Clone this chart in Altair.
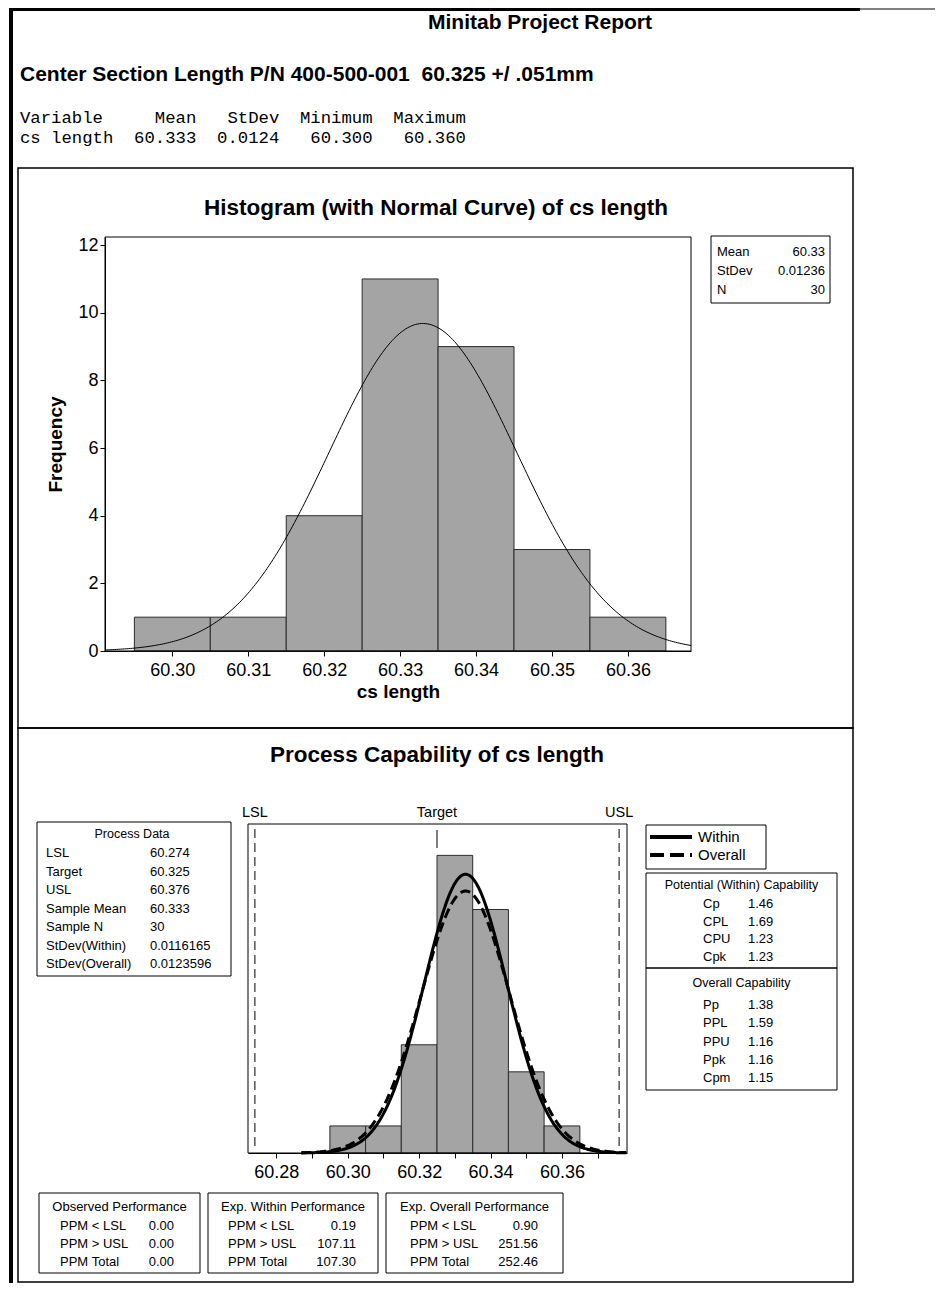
import altair as alt
import pandas as pd

# ---------------- data ----------------
BIN_CENTERS = [60.30, 60.31, 60.32, 60.33, 60.34, 60.35, 60.36]
COUNTS = [1, 1, 4, 11, 9, 3, 1]
BIN_WIDTH = 0.01
N_OBS = 30
MEAN = 60.333
SD_HIST = 0.01236
SD_WITHIN = 0.0116165
SD_OVERALL = 0.0123596
LSL, TARGET, USL = 60.274, 60.325, 60.376
SPEC_LABELS = ["LSL", "Target", "USL"]

HIST_X_TICKS = [60.30, 60.31, 60.32, 60.33, 60.34, 60.35, 60.36]
HIST_Y_TICKS = [0, 2, 4, 6, 8, 10, 12]
CAP_X_TICKS = [60.28, 60.29, 60.30, 60.31, 60.32, 60.33, 60.34, 60.35, 60.36, 60.37]

REPORT_TITLE = "Minitab Project Report"
SUBTITLE = "Center Section Length P/N 400-500-001  60.325 +/ .051mm"
SUMMARY_HEADER = "Variable     Mean   StDev  Minimum  Maximum"
SUMMARY_ROW = "cs length  60.333  0.0124   60.300   60.360"
HIST_TITLE = "Histogram (with Normal Curve) of cs length"
CAP_TITLE = "Process Capability of cs length"
HIST_STAT_LABELS = ["Mean", "StDev", "N"]
HIST_STAT_VALUES = ["60.33", "0.01236", "30"]
PROCESS_TITLE = "Process Data"
PROCESS_LABELS = ["LSL", "Target", "USL", "Sample Mean", "Sample N", "StDev(Within)", "StDev(Overall)"]
PROCESS_VALUES = ["60.274", "60.325", "60.376", "60.333", "30", "0.0116165", "0.0123596"]
LEGEND_LABELS = ["Within", "Overall"]
POTENTIAL_TITLE = "Potential (Within) Capability"
POTENTIAL_LABELS = ["Cp", "CPL", "CPU", "Cpk"]
POTENTIAL_VALUES = ["1.46", "1.69", "1.23", "1.23"]
OVERALL_TITLE = "Overall Capability"
OVERALL_LABELS = ["Pp", "PPL", "PPU", "Ppk", "Cpm"]
OVERALL_VALUES = ["1.38", "1.59", "1.16", "1.16", "1.15"]
PERF_LABELS = ["PPM < LSL", "PPM > USL", "PPM Total"]
OBSERVED_TITLE = "Observed Performance"
OBSERVED_VALUES = ["0.00", "0.00", "0.00"]
EXPW_TITLE = "Exp. Within Performance"
EXPW_VALUES = ["0.19", "107.11", "107.30"]
EXPO_TITLE = "Exp. Overall Performance"
EXPO_VALUES = ["0.90", "251.56", "252.46"]

# ---------------- layout helpers ----------------
SANS = "Liberation Sans"
MONO = "Liberation Mono"
W, H = 927, 1275
ONE = pd.DataFrame({"k": [0]})


def P(v):
    return v - 8


def keep(s):
    return s.replace(" ", "\u00a0")


def rows(y0, n, dy):
    return [y0 + i * dy for i in range(n)]


def box(x0, y0, x1, y1, sw=1.0):
    return alt.Chart(ONE).mark_rect(fill="white", fillOpacity=0, stroke="black", strokeWidth=sw).encode(
        x=alt.value(P(x0)), x2=alt.value(P(x1)), y=alt.value(P(y0)), y2=alt.value(P(y1)))


def solid(x0, y0, x1, y1):
    return alt.Chart(ONE).mark_rect(fill="black").encode(
        x=alt.value(P(x0)), x2=alt.value(P(x1)), y=alt.value(P(y0)), y2=alt.value(P(y1)))


def seg(x0, y0, x1, y1, sw=1.0, dash=None):
    kw = dict(color="black", strokeWidth=sw)
    if dash:
        kw["strokeDash"] = dash
    return alt.Chart(ONE).mark_rule(**kw).encode(
        x=alt.value(P(x0)), x2=alt.value(P(x1)), y=alt.value(P(y0)), y2=alt.value(P(y1)))


def txt(xs, ys, texts, size, weight="normal", align="left", font=SANS, angle=0):
    df = pd.DataFrame({"x": [P(v) for v in xs], "y": [P(v) for v in ys], "t": [keep(t) for t in texts]})
    return alt.Chart(df).mark_text(align=align, baseline="middle", font=font, fontSize=size,
                                   fontWeight=weight, color="black", angle=angle).encode(
        x=alt.X("x:Q", scale=None, axis=None),
        y=alt.Y("y:Q", scale=None, axis=None),
        text="t:N")


def axis_common(**kw):
    base = dict(grid=False, labelFont=SANS, labelFontSize=18, labelColor="black", tickColor="black",
                domainColor="black", tickSize=5, labelFlush=False, labelOverlap=False,
                titleFont=SANS, titleFontSize=19, titleFontWeight="bold", titleColor="black")
    base.update(kw)
    return alt.Axis(**base)


bins_df = pd.DataFrame({"c": BIN_CENTERS, "n": COUNTS})
half = BIN_WIDTH / 2

# ---------------- histogram ----------------
hx0, hx1 = 60.29113, 60.36831
hx = alt.Scale(domain=[hx0, hx1], range=[P(105), P(691)], nice=False, zero=False)
hy = alt.Scale(domain=[0, 12.24], range=[P(651), P(237)], nice=False, zero=True)
hxa = axis_common(orient="bottom", offset=P(651) - H, values=HIST_X_TICKS, format=".2f",
                  labelPadding=5, title="cs length", titlePadding=3)
hya = axis_common(orient="left", offset=-P(105), values=HIST_Y_TICKS, format="d",
                  labelPadding=2, title="Frequency", titlePadding=12)

h_bars = alt.Chart(bins_df).transform_calculate(
    lo=f"datum.c - {half}", hi=f"datum.c + {half}"
).mark_rect(fill="#a4a4a4", stroke="#2b2b2b", strokeWidth=1).encode(
    x=alt.X("lo:Q", scale=hx, axis=hxa), x2="hi:Q",
    y=alt.Y("n:Q", scale=hy, axis=hya), y2=alt.datum(0))

NPTS = 300
h_curve = alt.Chart(alt.sequence(0, NPTS + 1, as_="i")).transform_calculate(
    x=f"{hx0} + datum.i * {(hx1 - hx0) / NPTS}"
).transform_calculate(
    y=f"{N_OBS * BIN_WIDTH} * densityNormal(datum.x, {MEAN}, {SD_HIST})"
).mark_line(color="black", strokeWidth=1, clip=True).encode(
    x=alt.X("x:Q", scale=hx, axis=hxa), y=alt.Y("y:Q", scale=hy, axis=hya), order="i:Q")

hist = alt.layer(h_bars, h_curve)

# ---------------- capability ----------------
cx = alt.Scale(domain=[60.27207, 60.37821], range=[P(248), P(627)], nice=False, zero=False)
cy = alt.Scale(domain=[0, 12.16], range=[P(1153), P(824)], nice=False, zero=True)
cxa = axis_common(orient="bottom", offset=P(1153) - H, values=CAP_X_TICKS,
                  labelExpr="round(datum.value * 100) % 2 == 0 ? format(datum.value, '.2f') : ''",
                  labelPadding=5, title=None)

c_bars = alt.Chart(bins_df).transform_calculate(
    lo=f"datum.c - {half}", hi=f"datum.c + {half}"
).mark_rect(fill="#a4a4a4", stroke="#2b2b2b", strokeWidth=1).encode(
    x=alt.X("lo:Q", scale=cx, axis=cxa), x2="hi:Q",
    y=alt.Y("n:Q", scale=cy, axis=None), y2=alt.datum(0))

cx0, cx1 = 60.2870, 60.3780


def cap_curve(sd, dash=None):
    kw = dict(color="black", strokeWidth=3, clip=True)
    if dash:
        kw["strokeDash"] = dash
    return alt.Chart(alt.sequence(0, NPTS + 1, as_="i")).transform_calculate(
        x=f"{cx0} + datum.i * {(cx1 - cx0) / NPTS}"
    ).transform_calculate(
        y=f"{N_OBS * BIN_WIDTH} * densityNormal(datum.x, {MEAN}, {sd})"
    ).mark_line(**kw).encode(
        x=alt.X("x:Q", scale=cx, axis=cxa), y=alt.Y("y:Q", scale=cy, axis=None), order="i:Q")


spec_df = pd.DataFrame({"v": [LSL, TARGET, USL], "lab": SPEC_LABELS})
limits_df = pd.DataFrame({"v": [LSL, USL]})
c_limits = alt.Chart(limits_df).mark_rule(color="black", strokeWidth=1, strokeDash=[9, 5]).encode(
    x=alt.X("v:Q", scale=cx, axis=cxa), y=alt.value(P(829)), y2=alt.value(P(1151)))
c_target = alt.Chart(pd.DataFrame({"v": [TARGET]})).mark_rule(color="black", strokeWidth=1).encode(
    x=alt.X("v:Q", scale=cx, axis=cxa), y=alt.value(P(830)), y2=alt.value(P(848)))
c_labels = alt.Chart(spec_df).mark_text(font=SANS, fontSize=14.5, color="black", baseline="middle").encode(
    x=alt.X("v:Q", scale=cx, axis=cxa), y=alt.value(P(813)), text="lab:N")

cap = alt.layer(c_bars, cap_curve(SD_OVERALL, [10, 5]), cap_curve(SD_WITHIN), c_limits, c_target, c_labels)

# ---------------- decorations & text ----------------
layers = [
    solid(9, 8, 13, 1283),
    solid(9, 8, 860, 11),
    seg(860, 9, 935, 9, 1),
    box(18, 168, 853, 728, 1.5),
    box(18, 728, 853, 1282, 1.5),
    hist,
    box(105, 237, 691, 651),
    cap,
    box(248, 824, 627, 1153),
    txt([540], [23], [REPORT_TITLE], 21, "bold", "center"),
    txt([20], [75], [SUBTITLE], 21, "bold"),
    txt([20, 20], [118, 138], [SUMMARY_HEADER, SUMMARY_ROW], 17.3, font=MONO),
    txt([436], [208], [HIST_TITLE], 22.5, "bold", "center"),
    txt([437], [755], [CAP_TITLE], 22.5, "bold", "center"),
    # histogram stats box
    box(711, 236, 830, 303),
    txt([717] * 3, rows(252, 3, 19), HIST_STAT_LABELS, 13),
    txt([825] * 3, rows(252, 3, 19), HIST_STAT_VALUES, 13, align="right"),
    # process data
    box(37, 822, 231, 976),
    txt([132], [834], [PROCESS_TITLE], 12.5, align="center"),
    txt([46] * 7, rows(853, 7, 18.5), PROCESS_LABELS, 13),
    txt([150] * 7, rows(853, 7, 18.5), PROCESS_VALUES, 13),
    # legend
    box(646, 825, 766, 869),
    seg(650, 837, 692, 837, 4),
    seg(650, 855, 692, 855, 4, [14, 6]),
    txt([698, 698], [837, 855], LEGEND_LABELS, 15),
    # potential capability
    box(646, 873, 837, 968),
    txt([741.5], [885], [POTENTIAL_TITLE], 12.5, align="center"),
    txt([703] * 4, rows(904, 4, 17.5), POTENTIAL_LABELS, 13),
    txt([748] * 4, rows(904, 4, 17.5), POTENTIAL_VALUES, 13),
    # overall capability
    box(646, 968, 837, 1090),
    txt([741.5], [983], [OVERALL_TITLE], 12.5, align="center"),
    txt([703] * 5, rows(1005, 5, 18.3), OVERALL_LABELS, 13),
    txt([748] * 5, rows(1005, 5, 18.3), OVERALL_VALUES, 13),
    # performance boxes
    box(39, 1193, 200, 1273),
    txt([119.5], [1207], [OBSERVED_TITLE], 13, align="center"),
    txt([60] * 3, rows(1226, 3, 18), PERF_LABELS, 13),
    txt([174] * 3, rows(1226, 3, 18), OBSERVED_VALUES, 13, align="right"),
    box(208, 1193, 378, 1273),
    txt([293], [1207], [EXPW_TITLE], 13, align="center"),
    txt([228] * 3, rows(1226, 3, 18), PERF_LABELS, 13),
    txt([356] * 3, rows(1226, 3, 18), EXPW_VALUES, 13, align="right"),
    box(386, 1193, 563, 1273),
    txt([474.5], [1207], [EXPO_TITLE], 13, align="center"),
    txt([410] * 3, rows(1226, 3, 18), PERF_LABELS, 13),
    txt([538] * 3, rows(1226, 3, 18), EXPO_VALUES, 13, align="right"),
]

chart = alt.layer(*layers).resolve_scale(
    x="independent", y="independent"
).resolve_axis(
    x="independent", y="independent"
).properties(
    width=W, height=H, padding=0, background="white",
    autosize=alt.AutoSizeParams(type="none"),
).configure_view(stroke=None)

chart.save("out.html", embed_options={"renderer": "svg", "actions": False})
